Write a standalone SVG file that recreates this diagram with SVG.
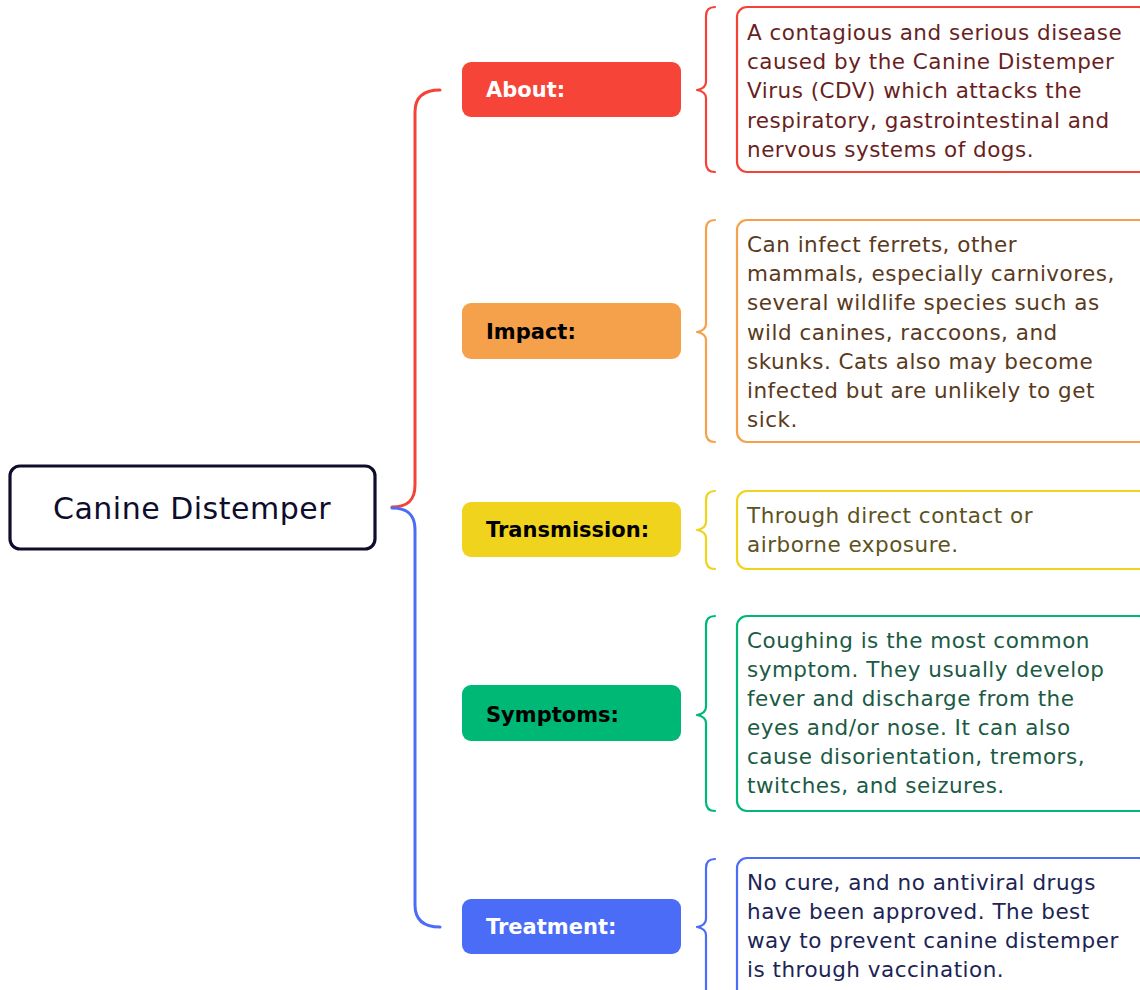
<svg xmlns="http://www.w3.org/2000/svg" width="1140" height="990" viewBox="0 0 1140 990">
<style>
.lbl{font-family:"DejaVu Sans","Liberation Sans",sans-serif;font-weight:700;font-size:21px}
.txt{font-family:"DejaVu Sans","Liberation Sans",sans-serif;font-size:21.5px;letter-spacing:0.5px}
.box{fill:#fff;stroke-width:2.2}
.br{fill:none;stroke-width:2.2;stroke-linecap:round;stroke-linejoin:round}
.conn{fill:none;stroke-width:3;stroke-linecap:round}
</style>
<rect width="1140" height="990" fill="#fff"/>
<g id="connectors">
<path class="conn" stroke="#f44336" d="M392,507 C408,507 415,500 415,485 L415,112 C415,97 424,90 440,90"/>
<path class="conn" stroke="#4a6cf7" d="M392,508 C408,508 415,515 415,530 L415,905 C415,920 424,927 440,927"/>
<path class="br" stroke="#f44336" d="M715,7 C709,7 706,10 706,16 L706,82 C706,87 702,89 697,90 C702,91 706,93 706,98 L706,163 C706,169 709,172 715,172"/>
<path class="br" stroke="#f5a04a" d="M715,220 C709,220 706,223 706,229 L706,324 C706,329 702,331 697,332 C702,333 706,335 706,340 L706,433 C706,439 709,442 715,442"/>
<path class="br" stroke="#f0d31c" d="M715,491 C709,491 706,494 706,500 L706,522 C706,527 702,529 697,530 C702,531 706,533 706,538 L706,560 C706,566 709,569 715,569"/>
<path class="br" stroke="#00b876" d="M715,616 C709,616 706,619 706,625 L706,707 C706,712 702,714 697,715 C702,716 706,718 706,723 L706,802 C706,808 709,811 715,811"/>
<path class="br" stroke="#4a6cf7" d="M715,859 C709,859 706,862 706,868 L706,919 C706,924 702,926 697,927 C702,928 706,930 706,935 L706,992"/>
</g>
<g id="root">
<rect x="10" y="466" width="365" height="83" rx="10" fill="#fff" stroke="#0e0e2c" stroke-width="3.2"/>
<text x="192" y="519" text-anchor="middle" font-family="'DejaVu Sans','Liberation Sans',sans-serif" font-size="30" letter-spacing="0.5" fill="#0e0e2c">Canine Distemper</text>
</g>
<g id="about">
<rect x="462" y="62" width="219" height="55" rx="9" fill="#f74438"/>
<text class="lbl" x="486" y="97" fill="#fff">About:</text>
</g>
<g id="about-text">
<rect class="box" x="737" y="7" width="412" height="165" rx="10" stroke="#f44336"/>
<text class="txt" fill="#6a1f1f"><tspan x="747" y="40">A contagious and serious disease</tspan><tspan x="747" y="69">caused by the Canine Distemper</tspan><tspan x="747" y="98">Virus (CDV) which attacks the</tspan><tspan x="747" y="128">respiratory, gastrointestinal and</tspan><tspan x="747" y="157">nervous systems of dogs.</tspan></text>
</g>
<g id="impact">
<rect x="462" y="303" width="219" height="56" rx="9" fill="#f5a04a"/>
<text class="lbl" x="486" y="339" fill="#000">Impact:</text>
</g>
<g id="impact-text">
<rect class="box" x="737" y="220" width="412" height="222" rx="10" stroke="#f5a04a"/>
<text class="txt" fill="#5a3a1c"><tspan x="747" y="252">Can infect ferrets, other</tspan><tspan x="747" y="281">mammals, especially carnivores,</tspan><tspan x="747" y="310">several wildlife species such as</tspan><tspan x="747" y="340">wild canines, raccoons, and</tspan><tspan x="747" y="369">skunks. Cats also may become</tspan><tspan x="747" y="398">infected but are unlikely to get</tspan><tspan x="747" y="427">sick.</tspan></text>
</g>
<g id="transmission">
<rect x="462" y="502" width="219" height="55" rx="9" fill="#f0d31c"/>
<text class="lbl" x="486" y="537" fill="#000">Transmission:</text>
</g>
<g id="transmission-text">
<rect class="box" x="737" y="491" width="412" height="78" rx="10" stroke="#f0d31c"/>
<text class="txt" fill="#5c5222"><tspan x="747" y="523">Through direct contact or</tspan><tspan x="747" y="552">airborne exposure.</tspan></text>
</g>
<g id="symptoms">
<rect x="462" y="685" width="219" height="56" rx="9" fill="#00b876"/>
<text class="lbl" x="486" y="722" fill="#000">Symptoms:</text>
</g>
<g id="symptoms-text">
<rect class="box" x="737" y="616" width="412" height="195" rx="10" stroke="#00b876"/>
<text class="txt" fill="#1b5a44"><tspan x="747" y="648">Coughing is the most common</tspan><tspan x="747" y="677">symptom. They usually develop</tspan><tspan x="747" y="706">fever and discharge from the</tspan><tspan x="747" y="735">eyes and/or nose. It can also</tspan><tspan x="747" y="764">cause disorientation, tremors,</tspan><tspan x="747" y="793">twitches, and seizures.</tspan></text>
</g>
<g id="treatment">
<rect x="462" y="899" width="219" height="55" rx="9" fill="#4a6cf7"/>
<text class="lbl" x="486" y="934" fill="#fff">Treatment:</text>
</g>
<g id="treatment-text">
<rect class="box" x="737" y="858" width="412" height="160" rx="10" stroke="#4a6cf7"/>
<text class="txt" fill="#1c2454"><tspan x="747" y="890">No cure, and no antiviral drugs</tspan><tspan x="747" y="919">have been approved. The best</tspan><tspan x="747" y="948">way to prevent canine distemper</tspan><tspan x="747" y="977">is through vaccination.</tspan></text>
</g>
</svg>
